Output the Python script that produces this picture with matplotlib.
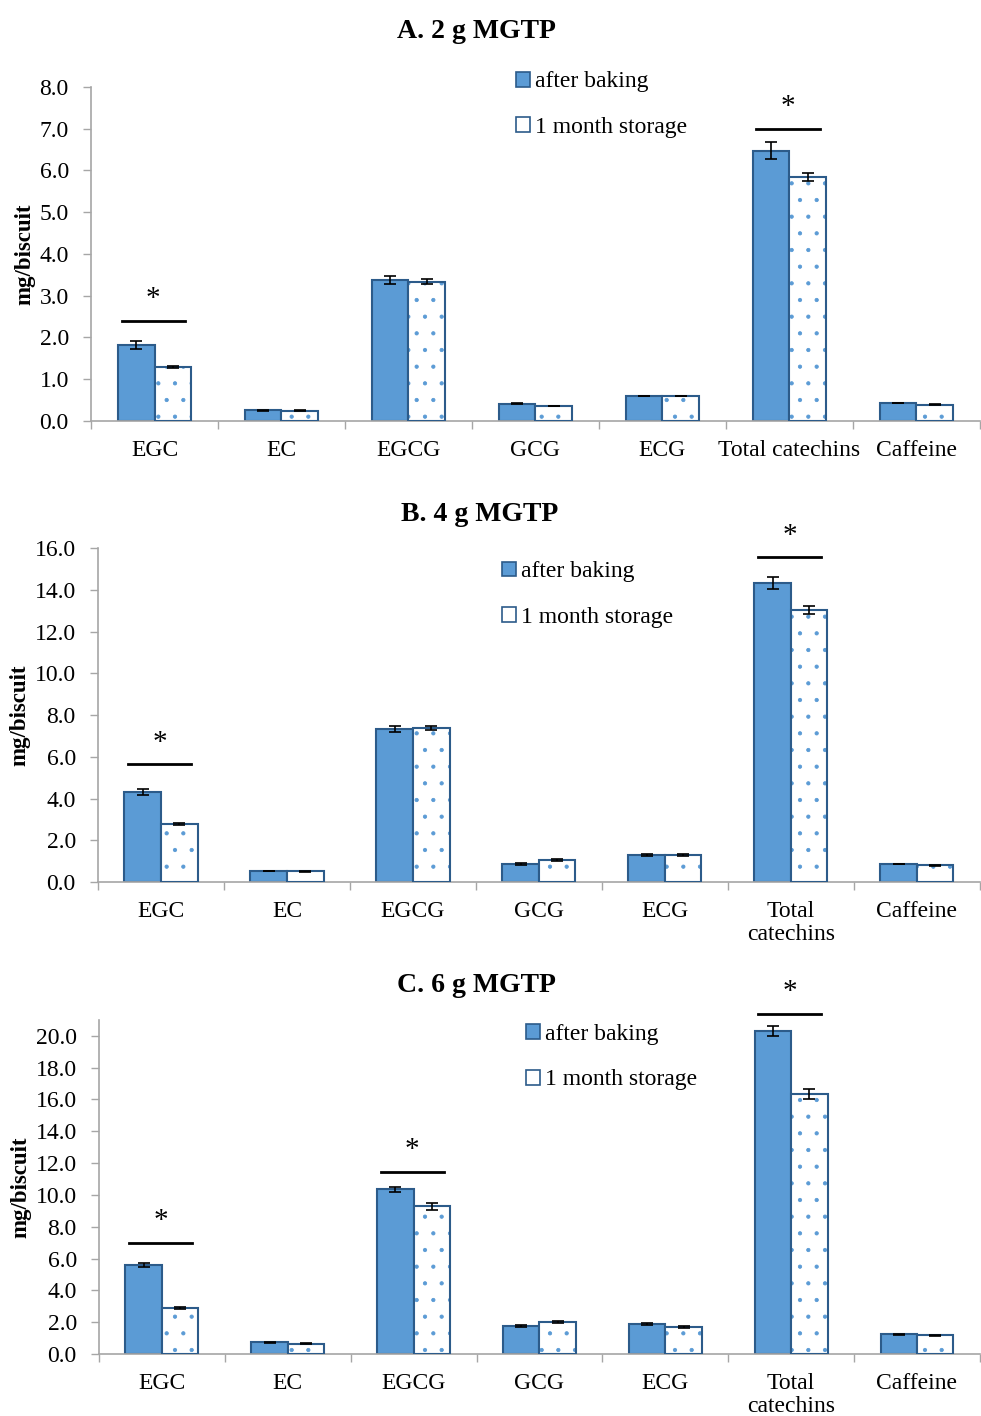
import matplotlib
matplotlib.use('Agg')
import matplotlib.pyplot as plt
from matplotlib.patches import Patch
import numpy as np

plt.rcParams['font.family'] = ['Liberation Serif', 'DejaVu Serif']
plt.rcParams['hatch.linewidth'] = 0.6

# data
categories = ['EGC', 'EC', 'EGCG', 'GCG', 'ECG', 'Total catechins', 'Caffeine']
titles = ['A. 2 g MGTP', 'B. 4 g MGTP', 'C. 6 g MGTP']

baked_a = [1.82, 0.26, 3.38, 0.41, 0.60, 6.47, 0.43]
stored_a = [1.29, 0.25, 3.33, 0.36, 0.60, 5.84, 0.39]
baked_a_err = [0.10, 0.01, 0.09, 0.01, 0.01, 0.20, 0.01]
stored_a_err = [0.03, 0.01, 0.06, 0.01, 0.01, 0.10, 0.01]

baked_b = [4.31, 0.53, 7.33, 0.86, 1.29, 14.32, 0.86]
stored_b = [2.78, 0.52, 7.38, 1.05, 1.29, 13.03, 0.81]
baked_b_err = [0.15, 0.02, 0.15, 0.04, 0.03, 0.30, 0.02]
stored_b_err = [0.04, 0.02, 0.10, 0.04, 0.03, 0.20, 0.02]

baked_c = [5.58, 0.75, 10.35, 1.76, 1.88, 20.31, 1.25]
stored_c = [2.88, 0.63, 9.28, 2.00, 1.69, 16.36, 1.19]
baked_c_err = [0.12, 0.03, 0.15, 0.05, 0.04, 0.30, 0.03]
stored_c_err = [0.08, 0.03, 0.20, 0.05, 0.04, 0.30, 0.03]

# significance bars: (category index, height)
sig_a = [(0, 2.4), (5, 7.0)]
sig_b = [(0, 5.65), (5, 15.57)]
sig_c = [(0, 7.0), (2, 11.47), (5, 21.4)]

ymax = [8.0, 16.0, 21.0]
ystep = [1.0, 2.0, 2.0]
ytop_tick = [8.0, 16.0, 20.0]

fill = '#5B9BD5'
edge = '#2C5B8A'
grey = '#A6A6A6'

panels = [
    (baked_a, stored_a, baked_a_err, stored_a_err, sig_a),
    (baked_b, stored_b, baked_b_err, stored_b_err, sig_b),
    (baked_c, stored_c, baked_c_err, stored_c_err, sig_c),
]

# axes boxes [left, bottom, width, height] in figure fractions
boxes = [
    [0.0928, 0.7027, 0.906, 0.2359],
    [0.0999, 0.3771, 0.899, 0.2359],
    [0.1009, 0.0438, 0.898, 0.2359],
]
title_y = [0.978, 0.637, 0.304]
title_x = [0.486, 0.489, 0.486]
legend_pos = [(0.526, 0.926), (0.512, 0.580), (0.536, 0.2535)]

fig = plt.figure(figsize=(9.81, 14.16), dpi=100)
x = np.arange(len(categories))
w = 0.29

for i, (baked, stored, berr, serr, sig) in enumerate(panels):
    ax = fig.add_axes(boxes[i])
    ax.bar(x - w / 2, baked, w, color=fill, edgecolor=edge, linewidth=1.5, zorder=2)
    # dotted bars: hatch in light blue, outline drawn on top in dark blue
    ax.bar(x + w / 2, stored, w, color='white', edgecolor=fill, linewidth=0,
           hatch='.', zorder=2)
    ax.bar(x + w / 2, stored, w, color='none', edgecolor=edge, linewidth=1.5, zorder=3)
    ax.errorbar(x - w / 2, baked, yerr=berr, fmt='none', ecolor='black',
                elinewidth=1.2, capsize=4, capthick=1.2, zorder=4)
    ax.errorbar(x + w / 2, stored, yerr=serr, fmt='none', ecolor='black',
                elinewidth=1.2, capsize=4, capthick=1.2, zorder=4)

    for idx, yv in sig:
        ax.plot([idx - w + 0.03, idx + w - 0.05], [yv, yv], color='black',
                linewidth=2, zorder=4, clip_on=False)
        ax.text(idx - 0.01, yv + ymax[i] * 0.025, '*', ha='center', va='bottom',
                fontsize=21, clip_on=False)

    ax.set_xlim(-0.5, len(categories) - 0.5)
    ax.set_ylim(0, ymax[i])
    yt = np.arange(0, ytop_tick[i] + 0.01, ystep[i])
    ax.set_yticks(yt)
    ax.set_yticklabels(['%.1f' % v for v in yt])
    labels = list(categories)
    if i > 0:
        labels[5] = 'Total\ncatechins'
    ax.set_xticks(x)
    ax.set_xticklabels(labels, va='top', linespacing=1.1)
    ax.set_xticks(np.arange(-0.5, len(categories)), minor=True)
    ax.tick_params(axis='x', which='major', length=0, pad=14, labelsize=17)
    ax.tick_params(axis='x', which='minor', length=6, color=grey, width=1)
    ax.tick_params(axis='y', length=6, color=grey, width=1, labelsize=17, pad=10)

    for s in ['top', 'right']:
        ax.spines[s].set_visible(False)
    for s in ['left', 'bottom']:
        ax.spines[s].set_color(grey)
        ax.spines[s].set_linewidth(1.2)

    ax.set_ylabel('mg/biscuit', fontsize=16.5, fontweight='bold', labelpad=3)

    fig.text(title_x[i], title_y[i], titles[i], ha='center', va='center',
             fontsize=20, fontweight='bold')

    handles = [Patch(facecolor=fill, edgecolor=edge, linewidth=1.2),
               Patch(facecolor='white', edgecolor=edge, linewidth=1.2)]
    ax.legend(handles, ['after baking', '1 month storage'], loc='center left',
              bbox_to_anchor=legend_pos[i], bbox_transform=fig.transFigure,
              frameon=False, fontsize=17, handlelength=0.6, handleheight=0.6,
              handletextpad=0.2, labelspacing=1.05, borderpad=0, borderaxespad=0)

fig.savefig('out.png', dpi=100)
